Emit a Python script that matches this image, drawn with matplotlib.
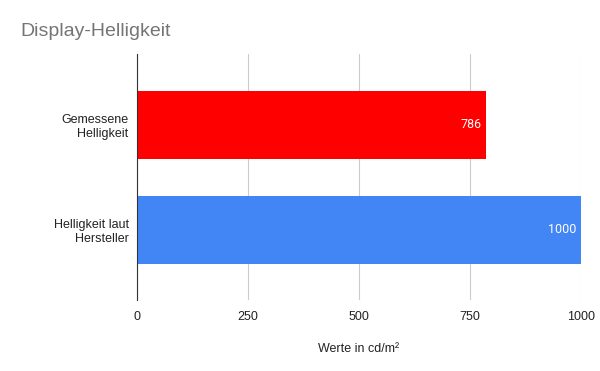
import matplotlib
matplotlib.use("Agg")
import matplotlib.pyplot as plt

categories = ["Gemessene\nHelligkeit", "Helligkeit laut\nHersteller"]
values = [786, 1000]
colors = ["#ff0000", "#4285f4"]
xticks = [0, 250, 500, 750, 1000]

plt.rcParams['font.family'] = ['Liberation Sans', 'DejaVu Sans']

fig = plt.figure(figsize=(6, 3.71), dpi=100)
ax = fig.add_axes([137/600, 71/371, 444/600, 246/371])

pos = list(range(len(categories)))
bars = ax.barh(pos, values, height=0.65, color=colors, zorder=3)
for b, v in zip(bars, values):
    ax.annotate(str(v), (b.get_width(), b.get_y() + b.get_height()/2),
                xytext=(-3, 0), textcoords="offset points",
                ha="right", va="center", color="white", fontsize=9, zorder=4,
                family=["Roboto", "DejaVu Sans"])

ax.set_ylim(1.667, -0.676)
ax.set_xlim(0, 1000)
ax.set_xticks(xticks)
ax.set_xticklabels([str(t) for t in xticks], fontsize=9, color="#222222")
ax.set_yticks(pos)
ax.set_yticklabels(categories, fontsize=9, color="#222222", ha="right")
ax.tick_params(axis="both", length=0)
ax.tick_params(axis="x", pad=8)
ax.tick_params(axis="y", pad=6)
ax.grid(axis="x", color="#cccccc", linewidth=0.8, zorder=0)
for s in ["top", "right", "bottom"]:
    ax.spines[s].set_visible(False)
ax.spines["left"].set_color("#333333")
ax.spines["left"].set_zorder(5)
ax.set_xlabel("Werte in cd/m²", fontsize=9, color="#222222", labelpad=14)

fig.text(20/600, 1 - 31/371, "Display-Helligkeit", fontsize=14, color="#757575",
         ha="left", va="center")

fig.savefig("out.png", dpi=100)
